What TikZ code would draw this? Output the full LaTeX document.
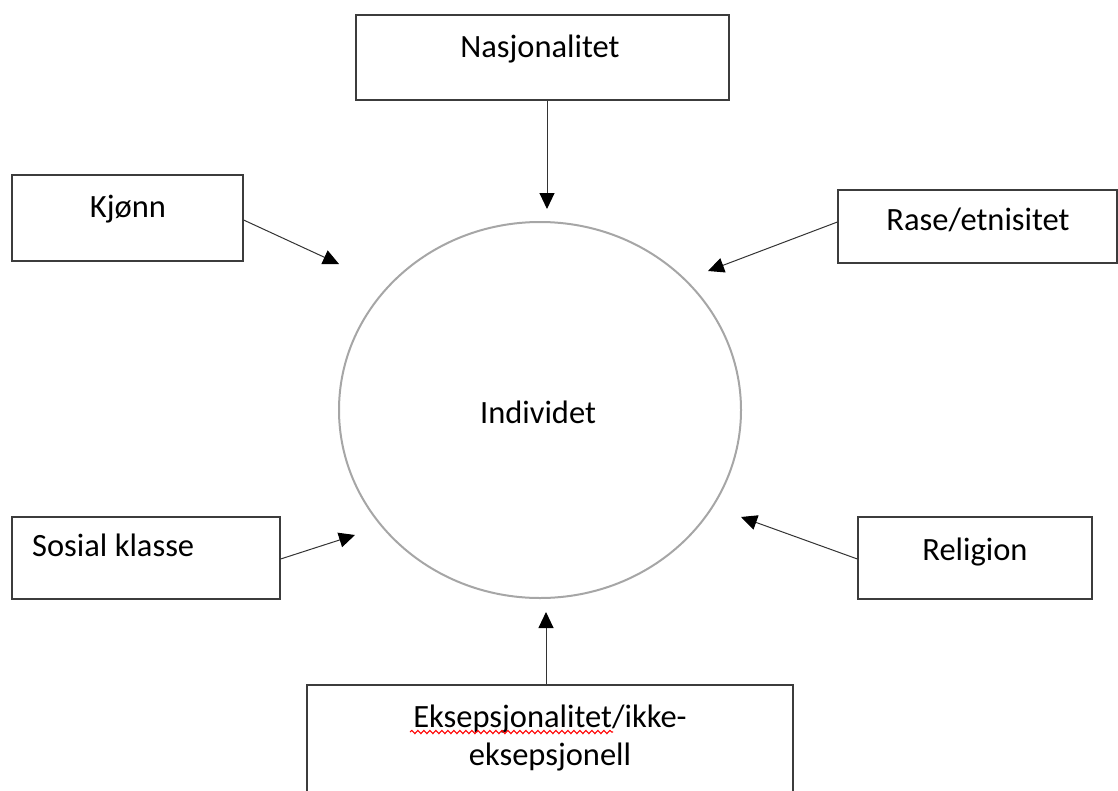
\documentclass[tikz,border=0pt]{standalone}
\usepackage{fontspec}
\setmainfont{Carlito}
\usetikzlibrary{arrows.meta,decorations.pathmorphing,shapes.geometric}
\definecolor{boxline}{HTML}{3C3C3C}
\definecolor{circline}{HTML}{A6A6A6}
\begin{document}
\begin{tikzpicture}[x=1pt,y=-1pt,
  box/.style={draw=boxline,line width=1.2pt,rectangle,inner sep=0pt},
  lbl/.style={inner sep=0pt,anchor=base,font=\fontsize{32.5}{40}\selectfont},
  arr/.style={line width=1pt,draw=black!80,-{Triangle[length=16pt,width=15pt,fill=black,color=black]}}]
\useasboundingbox (0,0) rectangle (1118,790);
\clip (0,0) rectangle (1118,790);
% circle
\node (ind) [draw=circline,line width=2pt,ellipse,minimum width=402pt,minimum height=376pt,inner sep=0pt] at (540,410) {};
\node[lbl] (indt) at (538,423) {Individet};
% boxes
\node[box,minimum width=373pt,minimum height=85pt] (nas) at (542.5,57.5) {};
\node[box,minimum width=231pt,minimum height=86pt] (kjo) at (127.5,218) {};
\node[box,minimum width=279pt,minimum height=73pt] (ras) at (977.5,226.5) {};
\node[box,minimum width=268pt,minimum height=82pt] (sos) at (146,558) {};
\node[box,minimum width=234pt,minimum height=82pt] (rel) at (975,558) {};
\node[box,minimum width=486pt,minimum height=115pt] (eks) at (550,742.5) {};
% labels
\node[lbl] (nast) at (540,57) {Nasjonalitet};
\node[lbl] (kjot) at (128,217) {Kjønn};
\node[lbl] (rast) at (978,230) {Rase/etnisitet};
\node[lbl,anchor=base west] (sost) at (32,556) {Sosial klasse};
\node[lbl] (relt) at (975,560) {Religion};
\node[lbl] (ekst1) at (550,727) {Eksepsjonalitet/ikke-};
\node[lbl] (ekst2) at (550,765) {eksepsjonell};
% spell-check squiggle
\coordinate (sqa) at (410,732);
\coordinate (sqb) at (613,732);
\draw[red,line width=1.1pt,decorate,decoration={snake,segment length=6pt,amplitude=1.6pt}] (sqa) -- (sqb);
% arrow tips
\coordinate (tnas) at (547,209);
\coordinate (tkjo) at (339,264);
\coordinate (tras) at (708,271);
\coordinate (tsos) at (355,535);
\coordinate (trel) at (741,517);
\coordinate (teks) at (546,612);
% arrows
\draw[arr] (nas.south -| tnas) -- (tnas);
\draw[arr] (kjo.east |- 0,220) -- (tkjo);
\draw[arr] (ras.west |- 0,222) -- (tras);
\draw[arr] (sos.east |- 0,559) -- (tsos);
\draw[arr] (rel.west |- 0,559) -- (trel);
\draw[arr] (eks.north -| teks) -- (teks);
\end{tikzpicture}
\end{document}
